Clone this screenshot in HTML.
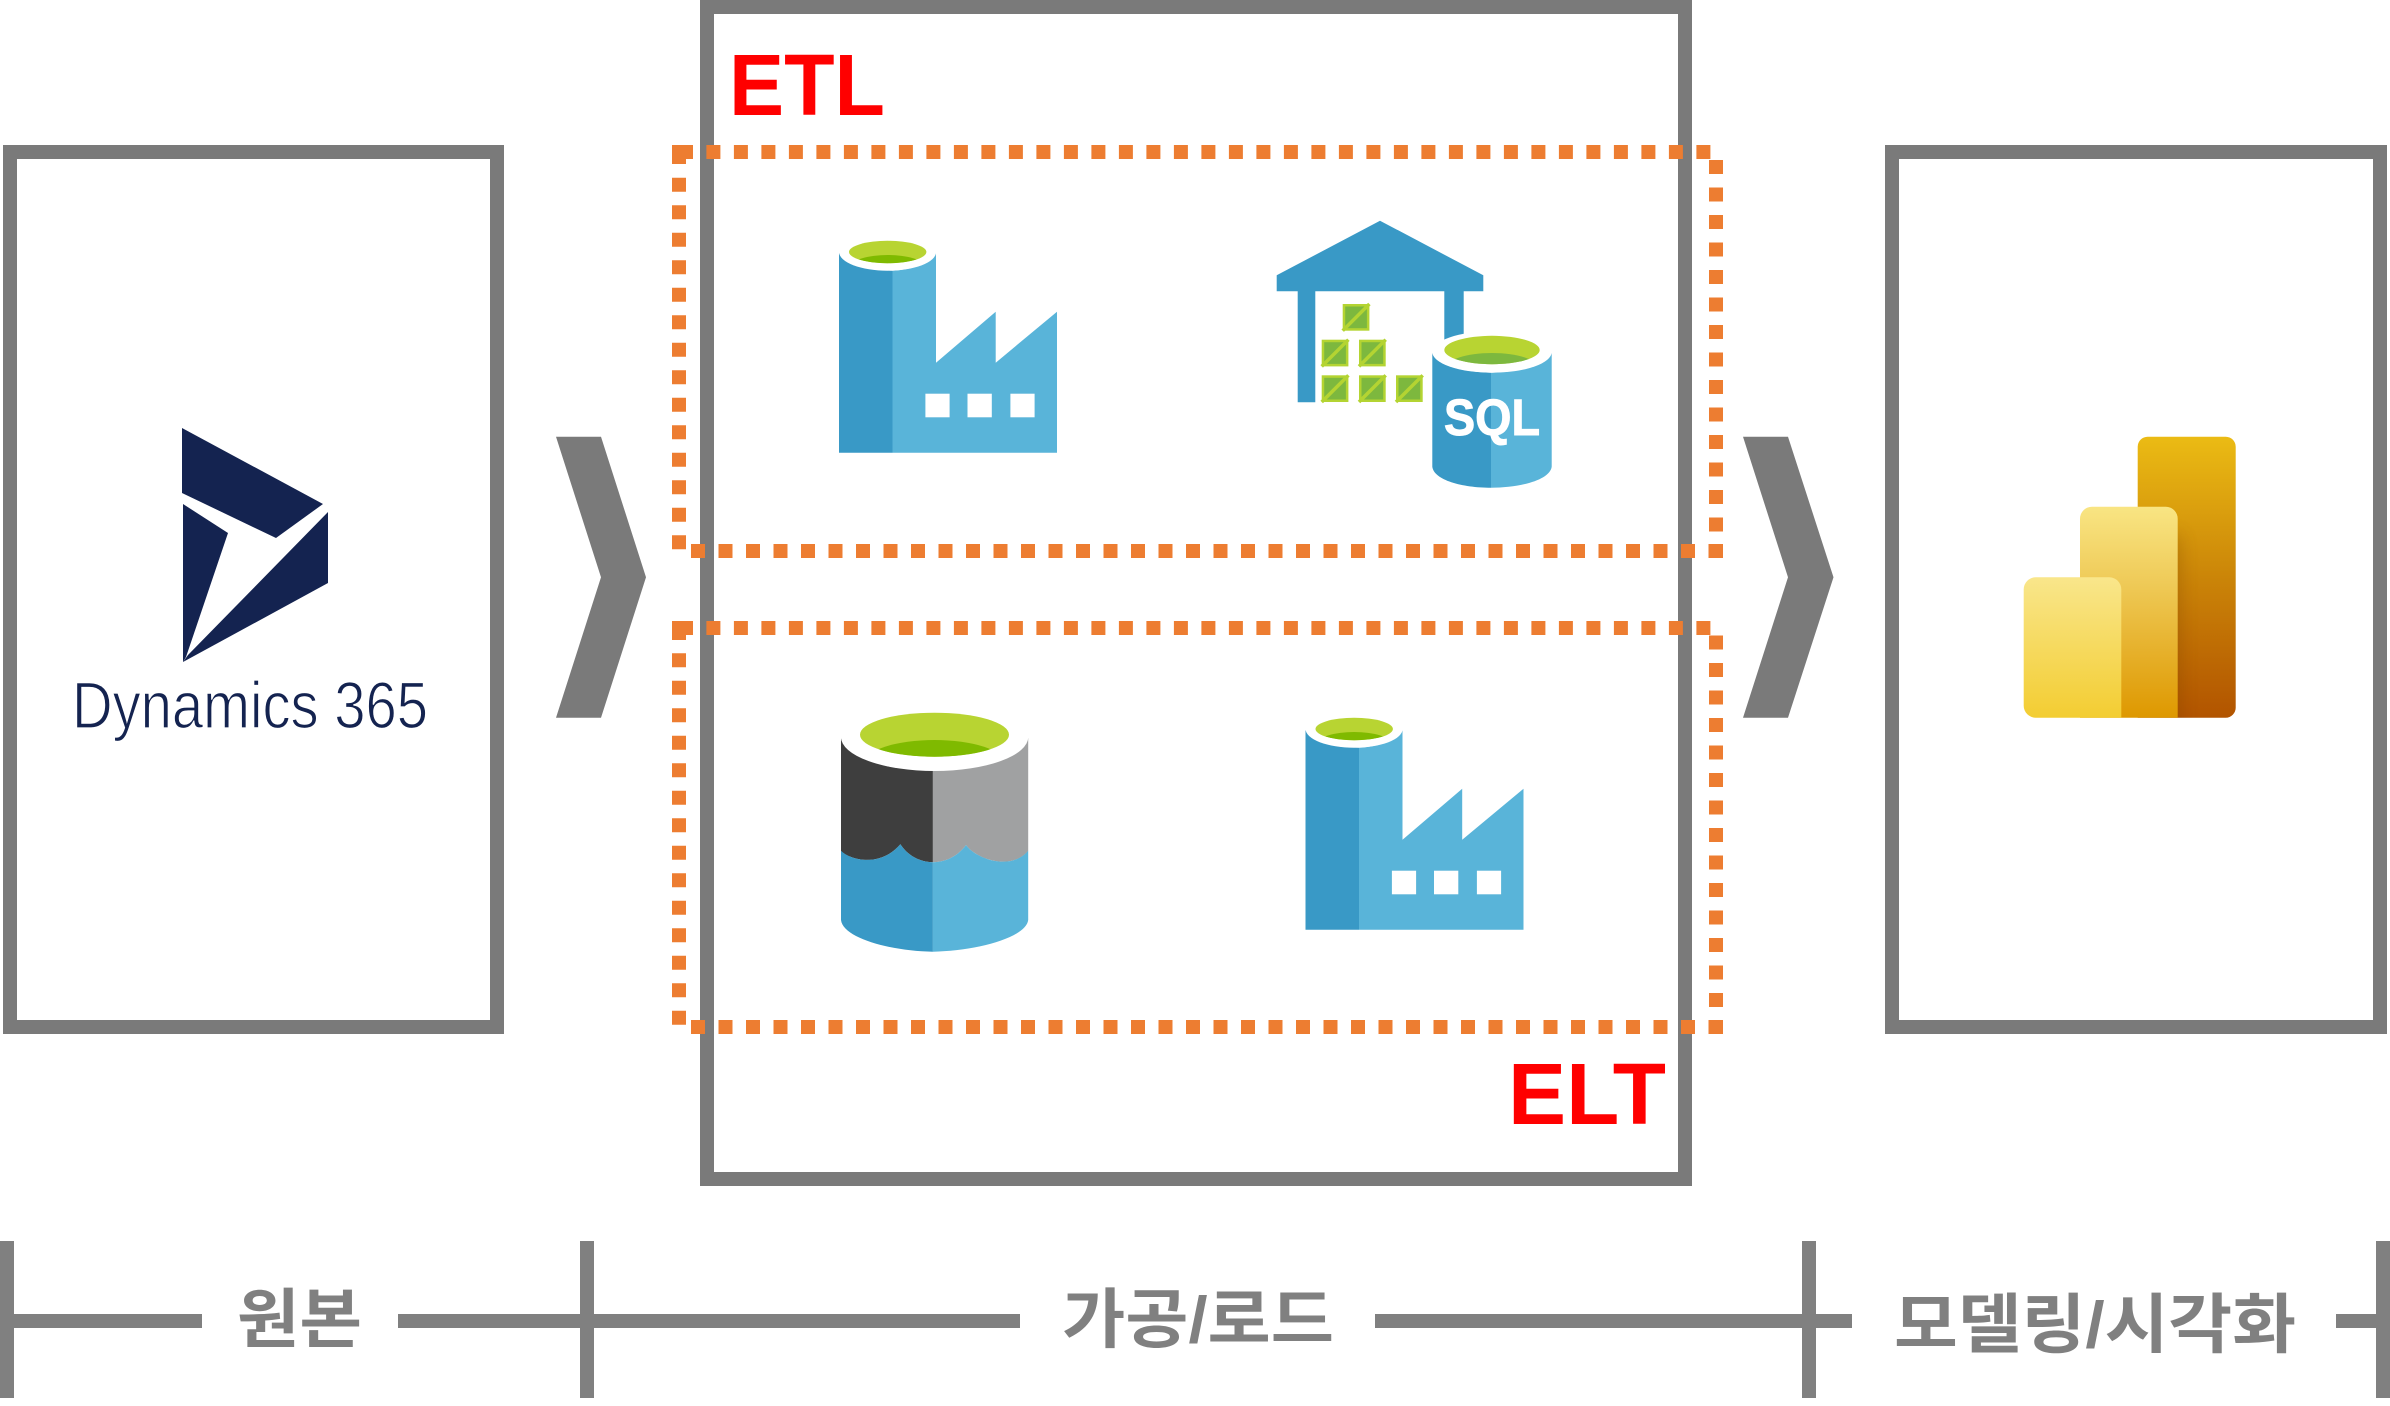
<!DOCTYPE html>
<html lang="ko">
<head>
<meta charset="utf-8">
<title>ETL / ELT</title>
<style>
html,body{margin:0;padding:0;background:#fff}
svg{display:block}
.ko{font-family:"Liberation Sans","Noto Sans CJK KR",sans-serif;font-weight:700;fill:#808080;font-size:65px}
.red{font-family:"Liberation Sans",sans-serif;font-weight:700;fill:#ff0000;font-size:87px}
</style>
</head>
<body>
<svg width="2390" height="1406" viewBox="0 0 2390 1406" xmlns="http://www.w3.org/2000/svg">
<defs>
  <linearGradient id="pb1" x1="0" y1="0" x2="0" y2="1"><stop offset="0" stop-color="#EBBB14"/><stop offset=".5" stop-color="#CB8508"/><stop offset="1" stop-color="#B25400"/></linearGradient>
  <linearGradient id="pb2" x1="0" y1="0" x2="0" y2="1"><stop offset="0" stop-color="#F9E583"/><stop offset=".35" stop-color="#EFCB59"/><stop offset="1" stop-color="#DE9800"/></linearGradient>
  <linearGradient id="pb3" x1="0" y1="0" x2="0" y2="1"><stop offset="0" stop-color="#F9E68B"/><stop offset="1" stop-color="#F3CD32"/></linearGradient>
  <filter id="blur" x="-100%" y="-20%" width="300%" height="140%"><feGaussianBlur stdDeviation="9"/></filter>
  <clipPath id="pbclip"><rect x="2137.7" y="436.7" width="98" height="281"/></clipPath>
  <clipPath id="f-in"><ellipse cx="887.7" cy="252" rx="38.7" ry="11.2"/></clipPath>
  <clipPath id="s-in"><ellipse cx="1492" cy="350" rx="47.7" ry="14.2"/></clipPath>
  <clipPath id="l-in"><ellipse cx="934.5" cy="734.7" rx="74.5" ry="22"/></clipPath>
  <g id="factory">
    <path d="M839 253V452.7H892.5V270.7C870 270 845 264 839 253Z" fill="#3999c6"/>
    <path d="M892.5 270.7V452.7H1057V311.7L995.7 362.7V311.7L936 362.7V253C930 264 910 270 892.5 270.7Z" fill="#59b4d9"/>
    <ellipse cx="887.6" cy="252" rx="48.5" ry="18.7" fill="#fff"/>
    <ellipse cx="887.7" cy="252" rx="38.7" ry="11.2" fill="#b8d432"/>
    <ellipse cx="887.7" cy="266" rx="36" ry="11" fill="#7fba00" clip-path="url(#f-in)"/>
    <rect x="925.4" y="393.7" width="24.2" height="23.6" fill="#fff"/>
    <rect x="967.5" y="393.7" width="24.3" height="23.6" fill="#fff"/>
    <rect x="1010.4" y="393.7" width="24.2" height="23.6" fill="#fff"/>
  </g>
  <g id="crate">
    <rect width="26.7" height="26.7" fill="#b4d432"/>
    <rect x="2.5" y="2.5" width="21.7" height="21.7" fill="#7db83e"/>
    <path d="M0 26.7L26.7 0" stroke="#b4d432" stroke-width="3.5"/>
  </g>
</defs>

<!-- boxes -->
<rect x="10" y="152" width="487" height="875" fill="none" stroke="#7a7a7a" stroke-width="14"/>
<rect x="707" y="7" width="978" height="1172" fill="none" stroke="#7a7a7a" stroke-width="14"/>
<rect x="1892" y="152" width="488" height="875" fill="none" stroke="#7a7a7a" stroke-width="14"/>

<!-- chevrons -->
<polygon points="556,436.7 601,436.7 646,577.3 601,717.7 556,717.7 601,577.3" fill="#7a7a7a"/>
<polygon points="1743,436.7 1788,436.7 1833.5,577.3 1788,717.7 1743,717.7 1788,577.3" fill="#7a7a7a"/>

<!-- dotted ETL -->
<g fill="none" stroke="#ed7d31" stroke-width="14" stroke-dasharray="14 13.5">
  <line x1="706.4" y1="152" x2="1711" y2="152"/>
  <line x1="679" y1="177.7" x2="679" y2="550"/>
  <line x1="1716" y1="160" x2="1716" y2="532"/>
  <line x1="691" y1="551" x2="1709" y2="551"/>
</g>
<rect x="672" y="145" width="21" height="14" fill="#ed7d31"/>
<rect x="672" y="145" width="14" height="19" fill="#ed7d31"/>
<rect x="1708.5" y="544" width="14.5" height="14" fill="#ed7d31"/>

<!-- dotted ELT -->
<g fill="none" stroke="#ed7d31" stroke-width="14" stroke-dasharray="14 13.5">
  <line x1="706.4" y1="628" x2="1711" y2="628"/>
  <line x1="679" y1="653.3" x2="679" y2="1026"/>
  <line x1="1716" y1="635.5" x2="1716" y2="1008"/>
  <line x1="691" y1="1027" x2="1709" y2="1027"/>
</g>
<rect x="672" y="621" width="21" height="14" fill="#ed7d31"/>
<rect x="672" y="621" width="14" height="19" fill="#ed7d31"/>
<rect x="1708.5" y="1020" width="14.5" height="14" fill="#ed7d31"/>

<!-- labels -->
<text class="red" x="729" y="115" textLength="156" lengthAdjust="spacingAndGlyphs">ETL</text>
<text class="red" x="1508" y="1124" textLength="158" lengthAdjust="spacingAndGlyphs">ELT</text>

<!-- Dynamics logo -->
<g fill="#142350">
  <polygon points="182,428 323,504 276,538 182,493"/>
  <polygon points="183,504 228,533 186,657 183,662"/>
  <polygon points="328,512 328,583 183,662 188,655"/>
</g>
<text x="72" y="728" font-family="'Liberation Sans',sans-serif" font-size="66" fill="#142350" stroke="#fff" stroke-width="1.3" textLength="356" lengthAdjust="spacingAndGlyphs">Dynamics 365</text>

<!-- Factory 1 & 2 -->
<use href="#factory"/>
<use href="#factory" x="466.5" y="477"/>

<!-- SQL warehouse -->
<path d="M1276.7 275.3L1380 220.7L1483.3 275.3V291.3H1463.7V345H1444.3V291.3H1315.3V402.3H1297.7V291.3H1276.7Z" fill="#3999c6"/>
<use href="#crate" x="1342.7" y="304"/>
<use href="#crate" x="1321.7" y="339.7"/>
<use href="#crate" x="1359" y="339.7"/>
<use href="#crate" x="1321.7" y="375.3"/>
<use href="#crate" x="1359" y="375.3"/>
<use href="#crate" x="1396" y="375.3"/>
<path d="M1432.3 353V466.7C1434 480 1462 487.7 1491 487.7V372.7C1462 372 1436 365 1432.3 353Z" fill="#3999c6"/>
<path d="M1491 372.7V487.7C1520 487.7 1550 480 1551.7 466.7V353C1548 365 1520 372 1491 372.7Z" fill="#59b4d9"/>
<ellipse cx="1492" cy="352" rx="59.7" ry="20.7" fill="#fff"/>
<ellipse cx="1492" cy="350" rx="47.7" ry="14.2" fill="#b8d432"/>
<ellipse cx="1492" cy="368" rx="46" ry="15" fill="#7db83e" clip-path="url(#s-in)"/>
<text x="1444" y="435" font-family="'Liberation Sans',sans-serif" font-weight="700" font-size="51" fill="#fff" stroke="#fff" stroke-width="1" textLength="96" lengthAdjust="spacingAndGlyphs">SQL</text>

<!-- Data lake -->
<path d="M841 738V851C850 860 880 868 900.4 844.3C908 856 920 862 932.9 862.3V770.7C890 770 845 757 841 738Z" fill="#3e3e3e"/>
<path d="M932.9 770.7V862.3C946 862 958 856 966 845C975 858 1010 872 1028.2 851V738C1024 757 975 770 932.9 770.7Z" fill="#a0a1a2"/>
<path d="M841 850.7C850 860 880 868 900.4 844.3C908 856 920 862 932.9 862.3V951.7C890 951 843 938 841 920Z" fill="#3999c6"/>
<path d="M932.9 862.3C946 862 958 856 966 845C975 858 1010 872 1028.2 850.7V920C1026 938 975 951 932.9 951.7Z" fill="#59b4d9"/>
<ellipse cx="934.6" cy="737" rx="93.6" ry="34" fill="#fff"/>
<ellipse cx="934.5" cy="734.7" rx="74.5" ry="22" fill="#b8d432"/>
<ellipse cx="934.5" cy="763" rx="70" ry="23" fill="#7fba00" clip-path="url(#l-in)"/>

<!-- Power BI -->
<path d="M2147.7 436.7H2225.7A10 10 0 0 1 2235.7 446.7V707.7A10 10 0 0 1 2225.7 717.7H2137.7V446.7A10 10 0 0 1 2147.7 436.7Z" fill="url(#pb1)"/>
<g clip-path="url(#pbclip)"><rect x="2160" y="535" width="20" height="200" fill="#6e3c00" opacity=".3" filter="url(#blur)"/></g>
<path d="M2092 506.7H2165.7A12 12 0 0 1 2177.7 518.7V717.7H2080V518.7A12 12 0 0 1 2092 506.7Z" fill="url(#pb2)"/>
<path d="M2035.7 577.3H2109.3A12 12 0 0 1 2121.3 589.3V717.7H2035.7A12 12 0 0 1 2023.7 705.7V589.3A12 12 0 0 1 2035.7 577.3Z" fill="url(#pb3)"/>

<!-- bottom axis -->
<g fill="#808080">
  <rect x="0" y="1241" width="14" height="157"/>
  <rect x="580" y="1241" width="14" height="157"/>
  <rect x="1802" y="1241" width="14" height="157"/>
  <rect x="2376" y="1241" width="14" height="157"/>
  <rect x="14" y="1314" width="188" height="14"/>
  <rect x="398" y="1314" width="622" height="14"/>
  <rect x="1375" y="1314" width="477" height="14"/>
  <rect x="2336" y="1314" width="40" height="14"/>
</g>
<text class="ko" x="237" y="1342" textLength="125" lengthAdjust="spacingAndGlyphs">원본</text>
<text class="ko" x="1062" y="1342" textLength="272" lengthAdjust="spacingAndGlyphs">가공/로드</text>
<text class="ko" x="1894" y="1347" textLength="402" lengthAdjust="spacingAndGlyphs">모델링/시각화</text>
</svg>
</body>
</html>
